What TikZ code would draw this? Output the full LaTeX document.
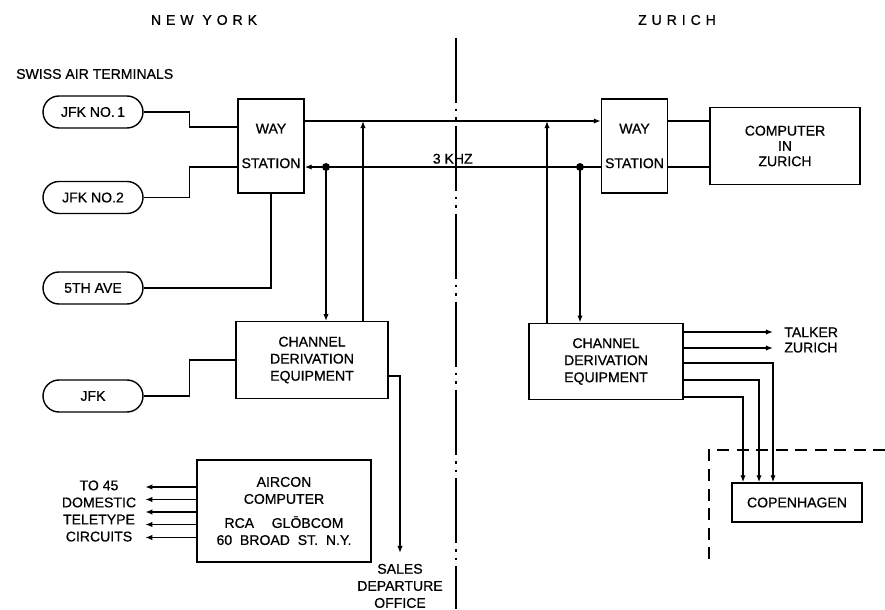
\documentclass[tikz,border=0pt]{standalone}
\usepackage{fontspec}
\setsansfont{Liberation Sans}[FakeBold=0.7]
\usetikzlibrary{arrows.meta,positioning,calc}

\begin{document}
\begin{tikzpicture}[
  font=\sffamily\fontsize{8}{9.7}\selectfont,
  wire/.style = {line width=0.7pt},
  arr/.style = {-{Latex[length=4pt,width=3pt]}, line width=0.7pt},
  termbox/.style = {draw, line width=0.8pt, rounded corners=3.2mm,
                    minimum width=2cm, minimum height=0.64cm},
  waybox/.style = {draw, line width=0.8pt, minimum width=1.32cm,
                   minimum height=1.88cm, align=center, inner sep=0pt},
  equipbox/.style = {draw, line width=0.8pt, minimum width=3.04cm,
                     minimum height=1.53cm, align=center},
  tap/.style = {circle, fill, inner sep=0pt, minimum size=4.5pt},
  centreline/.style = {line width=0.8pt,
                       dash pattern=on 1.3cm off 1.2mm on 0.5mm off 1.2mm on 0.5mm off 1.2mm},
  sitelabel/.style = {font=\sffamily\fontsize{8}{9.7}\selectfont\addfontfeature{LetterSpace=35}},
]
\useasboundingbox (0,0) rectangle (17.7,12.18);

% Headings
\node[sitelabel] (nyhead) at (4.08,11.78) {NEW YORK};
\node[sitelabel] (zhhead) at (13.54,11.78) {ZURICH};
\node[anchor=west] (swiss) at (0.2,10.70) {SWISS AIR TERMINALS};

% Border between the two sites
\draw[centreline] (9.12,11.42) -- (9.12,0);

% New York side
\node[termbox] (jfka) at (1.86,9.94) {JFK NO.\,1};
\node[termbox] (jfkb) at (1.86,8.23) {JFK NO.2};
\node[termbox] (fifth) at (1.86,6.42) {5TH AVE};
\node[termbox] (jfk) at (1.86,4.26) {JFK};
\node[waybox] (nyway) at (5.42,9.26) {WAY\\[10pt]STATION};
\node[equipbox] (nycde) at (6.24,4.98) {CHANNEL\\DERIVATION\\EQUIPMENT};
\node[equipbox, minimum width=3.48cm, minimum height=2.04cm] (aircon) at (5.68,1.96)
  {AIRCON\\COMPUTER\\[4pt]RCA\hspace{10pt}GLŌBCOM\\60\ \ BROAD\ \ ST.\ \ N.Y.};
\node[align=center, inner xsep=5pt] (circuits) at (1.98,1.96) {TO 45\\DOMESTIC\\TELETYPE\\CIRCUITS};
\node[align=center, anchor=north, inner xsep=2pt, inner ysep=6pt] (sales) at (8.0,1.12) {SALES\\DEPARTURE\\OFFICE};

% Zurich side
\node[waybox] (zhway) at (12.69,9.26) {WAY\\[10pt]STATION};
\node[equipbox, minimum width=3.0cm, minimum height=1.54cm] (zhcomp) at (15.70,9.26)
  {COMPUTER\\[-1pt]IN\\[-1pt]ZURICH};
\node[equipbox, minimum width=3.08cm] (zhcde) at (12.12,4.95) {CHANNEL\\DERIVATION\\EQUIPMENT};
\node[align=left, anchor=west, inner sep=0pt] (talker) at (15.68,5.38) {TALKER\\[-1pt]ZURICH};
\node[draw, line width=0.8pt, minimum width=2.6cm, minimum height=0.78cm] (copen) at (15.94,2.13) {COPENHAGEN};

% Trunk
\coordinate (nyup) at (7.26,9.76);
\coordinate (zhup) at (10.94,9.76);
\node[tap] (nytap) at (6.52,8.84) {};
\node[tap] (zhtap) at (11.60,8.84) {};
\draw[arr] ([yshift=5mm]nyway.east) -- ([yshift=5mm]zhway.west);
\draw[arr] ([yshift=-4.2mm]zhway.west) -- node[above, inner sep=1.5pt] {3 KHZ} ([yshift=-4.2mm]nyway.east);
\draw[wire] ([yshift=5mm]zhway.east) -- ([yshift=5mm]zhcomp.west);
\draw[wire] ([yshift=-4.2mm]zhway.east) -- ([yshift=-4.2mm]zhcomp.west);

% Drops to the channel equipment
\draw[arr] (nytap.center) -- (nytap.center |- nycde.north);
\draw[arr] (nyup |- nycde.north) -- (nyup);
\draw[arr] (zhtap.center) -- (zhtap.center |- zhcde.north);
\draw[arr] (zhup |- zhcde.north) -- (zhup);

% Terminal lines
\draw[wire] (jfka.east) -- ++(0.92,0) |- ([yshift=3.8mm]nyway.west);
\draw[wire] (jfkb.east) -- ++(0.92,0) |- ([yshift=-4.2mm]nyway.west);
\draw[wire] (fifth.east) -| (nyway.south);
\draw[wire] (jfk.east) -- ++(0.92,0) |- (nycde.west);

% Outputs in New York
\draw[arr] ([yshift=-3.2mm]nycde.east) -| (sales.north);
\foreach \dy in {0.48,0.23,-0.02,-0.27,-0.53}
  \draw[arr] ([yshift=\dy cm]aircon.west) -- ([yshift=\dy cm]aircon.west -| circuits.east);

% Outputs in Zurich
\coordinate (talka) at ([xshift=-2.2mm,yshift=1.6mm]talker.west);
\coordinate (talkb) at ([xshift=-2.2mm,yshift=-1.6mm]talker.west);
\draw[arr] (zhcde.east |- talka) -- (talka);
\draw[arr] (zhcde.east |- talkb) -- (talkb);
\foreach \dy/\dx in {-0.03/-0.48, -0.37/-0.76, -0.71/-1.08}
  \draw[arr] ([yshift=\dy cm]zhcde.east) -| ([xshift=\dx cm]copen.north);

% Copenhagen boundary
\draw[line width=0.8pt, dash pattern=on 2.4mm off 1.5mm] (17.7,3.18) -- (14.18,3.18) -- (14.18,0.94);
\end{tikzpicture}
\end{document}
